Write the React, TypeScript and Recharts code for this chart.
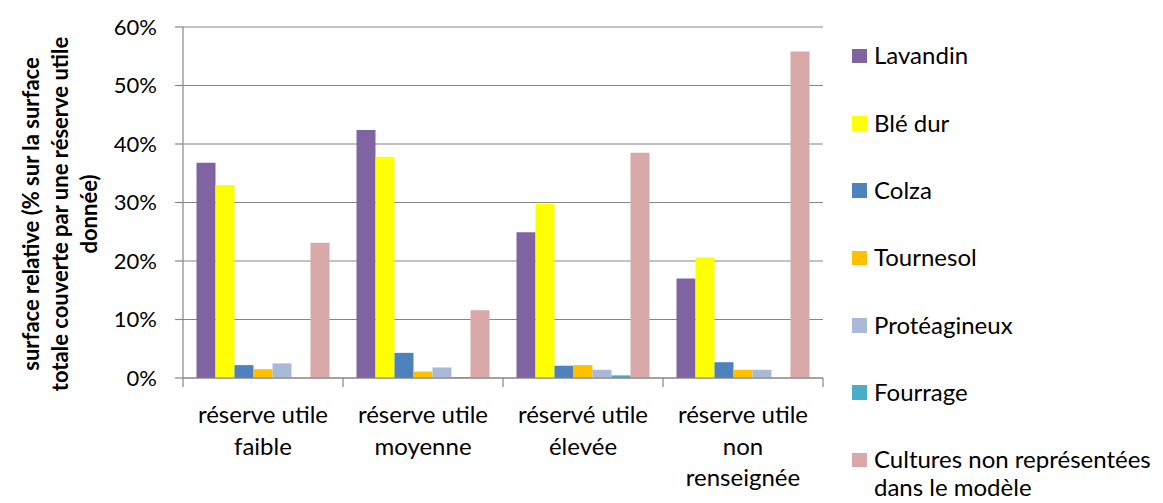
import React from "react";
import { BarChart, Bar, XAxis, YAxis, CartesianGrid, Legend } from "recharts";

const categories = [
  "réserve utile\nfaible",
  "réserve utile\nmoyenne",
  "réservé utile\nélevée",
  "réserve utile\nnon\nrenseignée",
];
const seriesNames = [
  "Lavandin",
  "Blé dur",
  "Colza",
  "Tournesol",
  "Protéagineux",
  "Fourrage",
  "Cultures non représentées\ndans le modèle",
];
const lavandin = [36.8, 42.4, 24.9, 17.0];
const bleDur = [33.0, 37.8, 29.8, 20.6];
const colza = [2.2, 4.3, 2.1, 2.7];
const tournesol = [1.5, 1.1, 2.2, 1.4];
const proteagineux = [2.5, 1.8, 1.4, 1.4];
const fourrage = [0, 0.15, 0.45, 0];
const culturesNonRepresentees = [23.1, 11.6, 38.5, 55.8];
const yTicks = [0, 10, 20, 30, 40, 50, 60];
const yTitleLines = [
  "surface relative (% sur la surface",
  "totale couverte par une réserve utile",
  "donnée)",
];

const COLORS = ["#8064A2", "#FFFF00", "#4F81BD", "#FFC000", "#AAB9D8", "#4BACC6", "#D9A8A8"];
const GRID = "#868686";
const FONT = "Lato, 'Open Sans', sans-serif";
const FS = 24;

const series = [lavandin, bleDur, colza, tournesol, proteagineux, fourrage, culturesNonRepresentees];

const data = categories.map((category, i) => {
  const row: Record<string, string | number> = { category };
  series.forEach((values, s) => {
    row[`s${s}`] = values[i];
  });
  return row;
});

// label lines + tick marks on the category boundaries (half a band either side)
function CategoryTick(props: any) {
  const { x, y, payload } = props;
  const half = Number(payload.offset) || 0;
  const lines = String(payload.value).split("\n");
  const isLast = payload.index === categories.length - 1;
  return (
    <g>
      <line x1={x - half} x2={x - half} y1={y} y2={y + 9} stroke={GRID} strokeWidth={1.2} />
      {isLast && (
        <line x1={x + half} x2={x + half} y1={y} y2={y + 9} stroke={GRID} strokeWidth={1.2} />
      )}
      <text x={x} y={y} textAnchor="middle" fill="#000" fontSize={FS} fontFamily={FONT}>
        {lines.map((line, i) => (
          <tspan key={i} x={x} dy={i === 0 ? 45 : 31.5}>
            {line}
          </tspan>
        ))}
      </text>
    </g>
  );
}

function YTitle() {
  const centers = [30, 59, 88];
  const cy = 214;
  return (
    <g>
      {yTitleLines.map((line, i) => (
        <text
          key={i}
          x={centers[i]}
          y={cy}
          transform={`rotate(-90, ${centers[i]}, ${cy})`}
          textAnchor="middle"
          dominantBaseline="central"
          fontSize={22}
          fontWeight="bold"
          fontFamily={FONT}
          fill="#000"
        >
          {line}
        </text>
      ))}
    </g>
  );
}

function renderLegend() {
  return (
    <div style={{ fontFamily: FONT, fontSize: FS, color: "#000" }}>
      {seriesNames.map((name, s) => (
        <div key={name} style={{ height: 67.33, display: "flex", alignItems: "flex-start" }}>
          <div
            style={{
              width: 14.5,
              height: 14.5,
              marginTop: 7.4,
              marginRight: 7.5,
              background: COLORS[s],
              flex: "none",
            }}
          />
          <div style={{ lineHeight: "28px", whiteSpace: "pre-line" }}>{name}</div>
        </div>
      ))}
    </div>
  );
}

export default function App() {
  return (
    <div style={{ width: 1163, height: 503, background: "#fff" }}>
      <style>{`body{margin:0}`}</style>
      <BarChart
        width={1163}
        height={503}
        data={data}
        margin={{ top: 27, right: 340, bottom: 0, left: 0 }}
        barCategoryGap={13.5}
        barGap={0}
      >
        <CartesianGrid horizontal vertical={false} stroke={GRID} strokeWidth={1.2} />
        <XAxis
          dataKey="category"
          type="category"
          interval={0}
          height={125}
          axisLine={{ stroke: GRID, strokeWidth: 1.2 }}
          tickLine={false}
          tickSize={0}
          tickMargin={0}
          tick={<CategoryTick />}
        />
        <YAxis
          width={183}
          domain={[0, 60]}
          ticks={yTicks}
          interval={0}
          tickFormatter={(v) => `${v}%`}
          axisLine={{ stroke: GRID, strokeWidth: 1.2 }}
          tickLine={{ stroke: GRID, strokeWidth: 1.2 }}
          tickSize={8}
          tickMargin={18}
          tick={{ fill: "#000", fontSize: 22, fontFamily: FONT }}
          label={{ content: () => <YTitle /> }}
        />
        <Legend
          layout="vertical"
          align="center"
          verticalAlign="middle"
          content={renderLegend}
          wrapperStyle={{ left: 852, top: 41.4, width: 311 }}
        />
        {seriesNames.map((name, s) => (
          <Bar
            key={name}
            dataKey={`s${s}`}
            name={name}
            fill={COLORS[s]}
            isAnimationActive={false}
          />
        ))}
      </BarChart>
    </div>
  );
}
